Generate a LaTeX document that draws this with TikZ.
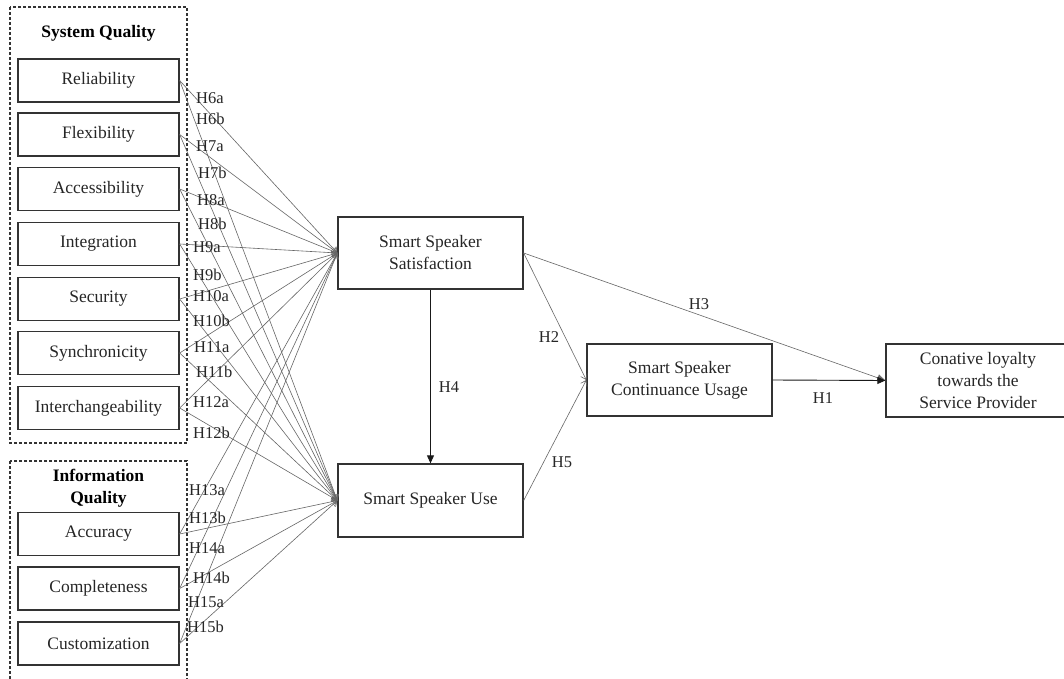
\documentclass[tikz,border=0pt]{standalone}
\usepackage{fontspec}
\setmainfont{Liberation Serif}
\usetikzlibrary{arrows.meta}
\begin{document}
\begin{tikzpicture}[x=1pt,y=-1pt,
  txt/.style={font=\fontsize{17.5}{22}\selectfont, align=center, text=black!85},
  lbox/.style={txt, draw=black!80, line width=1.3pt, minimum width=161pt, minimum height=43pt, inner sep=0pt},
  cbox/.style={txt, draw=black!80, line width=1.3pt, minimum width=185pt, minimum height=72pt, inner sep=0pt},
  grp/.style={draw=black!80, line width=1.1pt, dash pattern=on 3pt off 2pt},
  ttl/.style={font=\fontsize{17.5}{22}\selectfont\bfseries, align=center},
  conn/.style={draw=black!60, line width=0.6pt, -{Straight Barb[length=5pt,width=7pt]}},
  main/.style={draw=black!90, line width=0.9pt, -{Triangle[length=8pt,width=7pt]}},
  hl/.style={font=\fontsize{16.5}{18}\selectfont, text=black!85, inner sep=0pt}
]
\fill[white] (0,0) rectangle (1064,679);
\useasboundingbox (0,0) rectangle (1064,679);

% group boxes
\draw[grp] (10,7) rectangle (187,443);
\draw[grp] (10,461) rectangle (187,700);
\node[ttl] (tsys) at (98.5,33) {System Quality};
\node[ttl] (tinf) at (98.5,488) {Information\\Quality};

% left boxes
\node[lbox] (rel) at (98.5,80.5) {Reliability};
\node[lbox] (fle) at (98.5,134.5) {Flexibility};
\node[lbox] (acc) at (98.5,189) {Accessibility};
\node[lbox] (int) at (98.5,244) {Integration};
\node[lbox] (sec) at (98.5,299) {Security};
\node[lbox] (syn) at (98.5,353) {Synchronicity};
\node[lbox] (itc) at (98.5,408) {Interchangeability};
\node[lbox] (acu) at (98.5,534) {Accuracy};
\node[lbox] (com) at (98.5,588.5) {Completeness};
\node[lbox] (cus) at (98.5,643.5) {Customization};

% central boxes
\node[cbox] (sat) at (430.5,253) {Smart Speaker\\Satisfaction};
\node[cbox, minimum height=73pt] (use) at (430.5,500.5) {Smart Speaker Use};
\node[cbox] (cont) at (679.5,380) {Smart Speaker\\Continuance Usage};
\node[cbox, minimum height=73pt, minimum width=184pt] (con) at (978,380.5) {Conative loyalty\\towards the\\Service Provider};

% connectors from left boxes
\foreach \b in {rel,fle,acc,int,sec,syn,itc,acu,com,cus}{
  \draw[conn] (\b.east) -- (sat.west);
  \draw[conn] (\b.east) -- (use.west);
}

% labels
\node[hl, anchor=west] (l6a) at (196,98) {H6a};
\node[hl, anchor=west] (l6b) at (196,119) {H6b};
\node[hl, anchor=west] (l7a) at (196,146) {H7a};
\node[hl, anchor=west] (l7b) at (198,173) {H7b};
\node[hl, anchor=west] (l8a) at (197,200) {H8a};
\node[hl, anchor=west] (l8b) at (198,224) {H8b};
\node[hl, anchor=west] (l9a) at (193,247) {H9a};
\node[hl, anchor=west] (l9b) at (193,275) {H9b};
\node[hl, anchor=west] (l10a) at (193,296) {H10a};
\node[hl, anchor=west] (l10b) at (193,321) {H10b};
\node[hl, anchor=west] (l11a) at (194,347) {H11a};
\node[hl, anchor=west] (l11b) at (196,372) {H11b};
\node[hl, anchor=west] (l12a) at (193,402) {H12a};
\node[hl, anchor=west] (l12b) at (193,433) {H12b};
\node[hl, anchor=west] (l13a) at (189,490) {H13a};
\node[hl, anchor=west] (l13b) at (189,518) {H13b};
\node[hl, anchor=west] (l14a) at (189,548) {H14a};
\node[hl, anchor=west] (l14b) at (193,578) {H14b};
\node[hl, anchor=west] (l15a) at (188,602) {H15a};
\node[hl, anchor=west] (l15b) at (187,627) {H15b};

% central connectors
\draw[main] (sat.south) -- (use.north);
\draw[conn] (sat.east) -- (cont.west);
\draw[conn] (use.east) -- (cont.west);
\draw[main, draw=black!60, line width=0.6pt] (sat.east) -- (con.west);
\draw[main] (cont.east) -- (con.west);

\node[hl] (h4) at (449,387) {H4};
\node[hl] (h2) at (549,337) {H2};
\node[hl] (h5) at (562,462) {H5};
\node[hl] (h3) at (699,304) {H3};
\node[hl] (h1) at (823,398) {H1};
\end{tikzpicture}
\end{document}
